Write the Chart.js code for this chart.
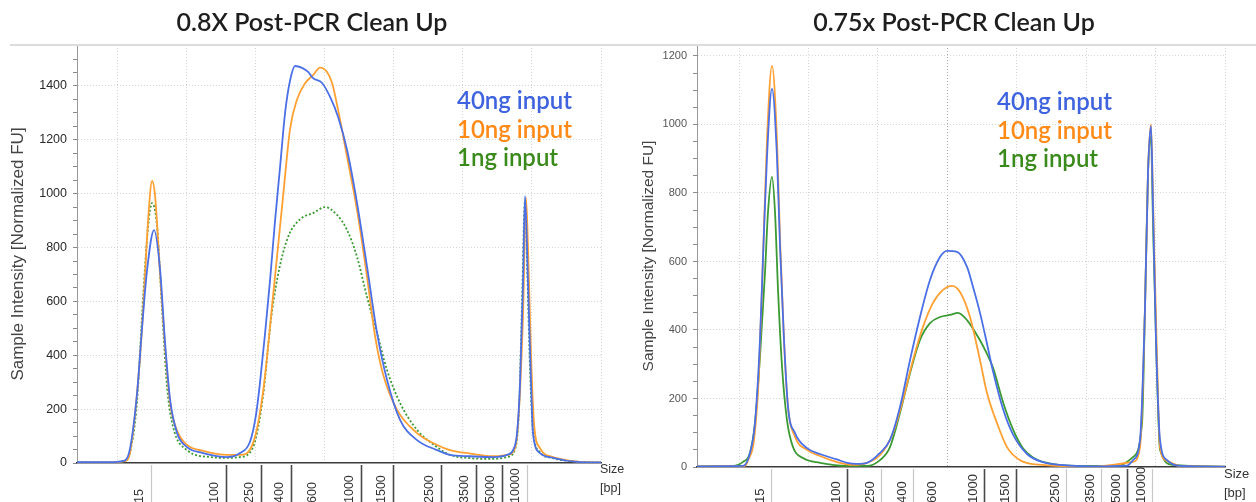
<!DOCTYPE html>
<html>
<head>
<meta charset="utf-8">
<script src="https://cdn.jsdelivr.net/npm/chart.js@4.4.1/dist/chart.umd.min.js"></script>
<style>
  html, body { margin: 0; padding: 0; background: #fff; }
  #wrap { position: relative; width: 1256px; height: 502px; overflow: hidden; }
  canvas { position: absolute; top: 0; }
  #cLeft { left: 0; }
  #cRight { left: 628px; }
  .title { position: absolute; top: 6px; font-family: Lato, "Open Sans", sans-serif; font-weight: 600;
           font-size: 25px; line-height: 30px; color: #1e1e1e; text-align: center; white-space: nowrap; }
  .rule { position: absolute; top: 44px; left: 10px; width: 1246px; border-top: 2px solid #dcdcdc; }
</style>
</head>
<body>
<div id="wrap">
  <canvas id="cLeft" width="628" height="502"></canvas>
  <canvas id="cRight" width="628" height="502"></canvas>
  <div class="title" style="left:0; width:624px;">0.8X Post-PCR Clean Up</div>
  <div class="title" style="left:652px; width:604px;">0.75x Post-PCR Clean Up</div>
  <div class="rule"></div>
</div>
<script>
// sample names
const inputs = ["40ng input", "10ng input", "1ng input"];

// ladder sizes (bp) and where they sit on each run's time axis
const ladderSizes = [15, 100, 250, 400, 600, 1000, 1500, 2500, 3500, 5000, 10000];
const leftLadderTimes = [14.92, 25.77, 30.83, 35.17, 39.9, 45.29, 49.92, 56.86, 61.92, 65.68, 69.3];
const rightLadderTimes = [14.61, 25.56, 30.45, 35.06, 39.38, 45.29, 49.9, 57.1, 62.14, 65.88, 69.48];

// 0.8X clean up traces [time, FU]
const left40 = [[4.2,3],[9,3],[11.16,10],[11.88,55],[12.89,260],[13.62,505],[14.34,717],[15.35,865],[16.22,717],
  [16.94,446],[17.67,234],[18.68,111],[20.12,59],[22.44,37],[25.91,22],[27.79,37],[29.24,80],[30.1,180],[30.68,300],
  [31.4,480],[32.13,680],[32.85,900],[33.58,1100],[34.3,1300],[35.02,1420],[35.74,1474],[36.76,1467],[37.63,1452],
  [38.35,1429],[39.65,1411],[40.81,1359],[41.97,1285],[43.27,1162],[44.71,965],[46.16,728],[47.6,483],[49.05,308],
  [50.93,160],[53.39,85],[56.28,48],[58.16,30],[61.06,25],[64.38,22],[66.41,30],[67.28,48],[67.85,110],[68.29,297],
  [68.72,668],[69.01,991],[69.44,668],[69.88,297],[70.16,111],[71.18,37],[73.06,19],[76.53,4],[80,2]];
const left10 = [[4.2,2],[9,2],[11.16,8],[11.88,40],[12.89,260],[13.62,505],[14.05,700],[14.48,900],[15.06,1047],
  [15.5,990],[16.22,700],[16.94,431],[17.67,223],[18.68,120],[20.12,67],[22.44,45],[25.91,30],[27.79,30],[29.67,74],
  [31.12,265],[32.56,620],[33.58,880],[34.01,990],[35.02,1240],[36.03,1350],[37.19,1410],[38.35,1440],[39.36,1468],
  [40.37,1452],[41.1,1411],[41.97,1311],[43.27,1136],[44.71,939],[46.16,691],[47.32,470],[48.47,330],[50.5,197],
  [53.39,111],[56.28,67],[58.16,48],[61.06,35],[64.38,25],[66.41,30],[67.56,55],[68.14,200],[68.72,550],[69.15,985],
  [69.44,800],[69.88,400],[70.3,150],[71.18,55],[73.06,22],[74.07,15],[76.53,5],[80,2]];
const left1 = [[4.2,2],[9,2],[11.16,8],[11.88,40],[12.89,230],[13.76,616],[14.48,876],[15.06,965],[15.79,876],
  [16.51,568],[17.23,282],[18.1,134],[20.12,48],[23.45,22],[25.91,19],[27.79,22],[29.67,59],[31.12,250],[32.2,520],
  [33.0,660],[34.0,780],[35.0,855],[36.0,893],[36.9,913],[38.35,928],[40.08,950],[41.82,921],[43.27,865],[44.71,765],
  [46.16,616],[47.6,483],[49.05,345],[50.93,223],[53.39,123],[56.28,59],[58.16,30],[61.06,18],[64.38,15],[66.41,22],
  [67.56,50],[68.14,200],[68.58,600],[69.01,975],[69.3,750],[69.73,350],[70.16,120],[71.18,40],[73.06,18],[76.53,5],[80,2]];

// 0.75x clean up traces [time, FU]
const right40 = [[3.95,2],[10.58,3],[11.58,41],[12.3,128],[13.02,371],[13.46,613],[14.03,905],[14.75,1104],[15.47,905],
  [15.91,642],[16.48,371],[17.06,175],[18.07,99],[19.79,55],[21.67,38],[24.11,22],[25.56,12],[27.0,9],[28.44,12],
  [30.31,41],[31.75,79],[33.19,175],[34.63,312],[36.07,438],[37.51,546],[38.95,613],[39.96,631],[41.4,628],[42.84,584],
  [43.7,526],[44.71,450],[45.72,360],[46.58,280],[48.02,170],[49.46,95],[51.48,38],[53.79,14],[56.23,6],[60.99,2],
  [65.88,4],[66.75,20],[67.76,79],[68.48,467],[68.91,858],[69.34,996],[69.63,759],[70.06,371],[70.64,79],[71.65,20],
  [73.52,3],[80,1]];
const right10 = [[3.95,2],[10.86,3],[11.3,20],[12.16,79],[12.87,274],[13.46,613],[14.03,955],[14.75,1171],[15.47,955],
  [15.91,663],[16.48,371],[17.06,175],[18.07,88],[19.79,50],[21.67,32],[23.55,18],[26.43,6],[28.44,12],[30.31,35],
  [32.18,99],[33.62,196],[35.06,312],[36.5,409],[37.94,479],[39.38,517],[40.68,529],[41.83,511],[43.27,438],[44.71,312],
  [45.72,216],[47.16,128],[48.6,58],[50.47,20],[53.79,6],[60.99,1],[66.75,15],[67.76,58],[68.48,467],[68.91,858],
  [69.34,1000],[69.63,780],[70.2,321],[70.64,58],[71.65,18],[73.52,3],[80,1]];
const right1 = [[3.95,2],[9.14,3],[10.58,15],[11.58,41],[12.3,128],[13.02,321],[13.74,566],[14.17,742],[14.75,847],
  [15.19,742],[15.62,517],[16.2,292],[16.91,137],[17.78,58],[19.22,26],[21.67,12],[25.56,3],[28.44,3],[30.31,20],
  [31.75,58],[33.19,158],[34.63,274],[36.07,371],[37.51,420],[38.95,438],[40.39,444],[41.54,450],[42.84,429],
  [44.71,370],[45.72,330],[46.58,290],[48.02,190],[49.46,110],[50.9,55],[52.34,28],[54.36,12],[58.67,3],[64.45,3],
  [66.75,29],[68.05,128],[68.48,467],[68.91,858],[69.34,964],[69.63,712],[70.2,274],[70.64,50],[72.5,6],[80,1]];

const lineColors = ["#4a6fe6", "#ffa033", "#3c9a34"];
const textColors = ["#3f63de", "#ff8a17", "#3a8a1c"];

// ladder tick marks + labels under the axis, and the Size [bp] caption
const ladderPlugin = {
  id: "ladder",
  afterDraw(chart, args, opts) {
    const { ctx, chartArea } = chart;
    const xs = chart.scales.x;
    ctx.save();
    opts.times.forEach((t, i) => {
      const px = Math.round(xs.getPixelForValue(t)) + 0.5;
      const st = opts.styles[i];
      if (st !== "none") {
        ctx.strokeStyle = st === "dark" ? "#4a4a4a" : "#c8c8c8";
        ctx.lineWidth = st === "dark" ? 1.6 : 1.2;
        ctx.beginPath();
        ctx.moveTo(px, chartArea.bottom + 2);
        ctx.lineTo(px, chart.height);
        ctx.stroke();
      }
      ctx.save();
      ctx.translate(px - opts.labelOffset, chart.height + 1);
      ctx.rotate(-Math.PI / 2);
      ctx.font = opts.font;
      ctx.fillStyle = opts.color;
      ctx.textAlign = "left";
      ctx.textBaseline = "middle";
      ctx.fillText(String(ladderSizes[i]), 0, 0);
      ctx.restore();
    });
    ctx.font = opts.font;
    ctx.fillStyle = opts.color;
    ctx.textAlign = "left";
    ctx.textBaseline = "middle";
    ctx.fillText("Size", chartArea.right - 1, chartArea.bottom + 7);
    ctx.fillText("[bp]", chartArea.right - 1, chartArea.bottom + 26);
    ctx.restore();
  }
};

// coloured sample names inside the plot
const inputLegend = {
  id: "inputLegend",
  afterDraw(chart, args, opts) {
    const ctx = chart.ctx;
    ctx.save();
    ctx.font = "600 24px Lato, sans-serif";
    ctx.textAlign = "left";
    ctx.textBaseline = "alphabetic";
    chart.data.datasets.forEach((ds, i) => {
      ctx.fillStyle = textColors[i];
      ctx.fillText(ds.label, opts.x, opts.y + i * 28.7);
    });
    ctx.restore();
  }
};

function steps(from, to, step) {
  const out = [];
  for (let v = from; v <= to + 1e-9; v += step) out.push({ value: v });
  return out;
}

function makeChart(id, series, cfg) {
  const datasets = series.map((d, i) => ({
    label: inputs[i],
    data: d,
    borderColor: lineColors[i],
    borderWidth: 1.8,
    borderDash: (cfg.dottedLow && i === 2) ? [2, 2] : [],
    pointRadius: 0,
    fill: false,
    cubicInterpolationMode: "monotone"
  }));

  return new Chart(document.getElementById(id), {
    type: "line",
    data: { datasets: datasets },
    options: {
      responsive: false,
      animation: false,
      layout: { padding: { top: 45, right: cfg.padRight, left: 0, bottom: 0 } },
      plugins: {
        legend: { display: false },
        tooltip: { enabled: false },
        ladder: {
          times: cfg.ladderTimes,
          styles: cfg.ladderStyles,
          labelOffset: 11.5,
          font: cfg.xFont,
          color: "#333"
        },
        inputLegend: { x: cfg.legendX, y: cfg.legendY }
      },
      scales: {
        x: {
          type: "linear",
          min: cfg.xMin,
          max: 80,
          afterBuildTicks: scale => { scale.ticks = steps(10, 80, 10); },
          afterFit: scale => { scale.height = cfg.xHeight; },
          ticks: { display: false },
          grid: {
            drawTicks: false,
            color: c => (c.tick && c.tick.value === cfg.darkGrid) ? "#a8a8a8" : "#d6d6d6"
          },
          border: { color: "#3a3a3a", width: 1.5, dash: [1, 2] }
        },
        y: {
          min: 0,
          max: cfg.yMax,
          afterBuildTicks: scale => { scale.ticks = steps(0, cfg.yMax, 50); },
          afterFit: scale => { scale.width = cfg.yWidth; },
          ticks: {
            autoSkip: false,
            padding: 6,
            color: cfg.yColor,
            font: { family: "'Liberation Sans', Arial, sans-serif", size: cfg.yTickSize },
            callback: v => (v % 200 === 0 ? v : "")
          },
          grid: {
            color: c => (c.tick && c.tick.value > 0 && c.tick.value % 200 === 0) ? "#d6d6d6" : "rgba(0,0,0,0)",
            tickColor: "#8a8a8a",
            tickLength: 4
          },
          border: { color: "#9a9a9a", width: 1, dash: [1, 2] },
          title: {
            display: true,
            text: "Sample Intensity [Normalized FU]",
            color: "#444",
            font: { family: "'Liberation Sans', Arial, sans-serif", size: cfg.yTitleSize },
            padding: { top: cfg.yTitlePad, bottom: 0 }
          }
        }
      }
    },
    plugins: [ladderPlugin, inputLegend]
  });
}

makeChart("cLeft", [left40, left10, left1], {
  xMin: 4.2, yMax: 1552, padRight: 27, xHeight: 39, yWidth: 77,
  ladderTimes: leftLadderTimes,
  ladderStyles: ["light", "dark", "dark", "dark", "none", "dark", "dark", "dark", "dark", "dark", "light"],
  xFont: "12.5px 'Liberation Sans', Arial, sans-serif",
  yColor: "#2a2a2a", yTickSize: 12.5, yTitleSize: 17, yTitlePad: 8,
  legendX: 457, legendY: 109, dottedLow: true, darkGrid: null
});

makeChart("cRight", [right40, right10, right1], {
  xMin: 3.95, yMax: 1232, padRight: 31, xHeight: 35, yWidth: 69,
  ladderTimes: rightLadderTimes,
  ladderStyles: ["light", "dark", "light", "light", "none", "dark", "dark", "light", "light", "dark", "light"],
  xFont: "13px 'Liberation Sans', Arial, sans-serif",
  yColor: "#555", yTickSize: 11, yTitleSize: 15.5, yTitlePad: 11,
  legendX: 369, legendY: 110, dottedLow: false, darkGrid: 40
});
</script>
</body>
</html>
